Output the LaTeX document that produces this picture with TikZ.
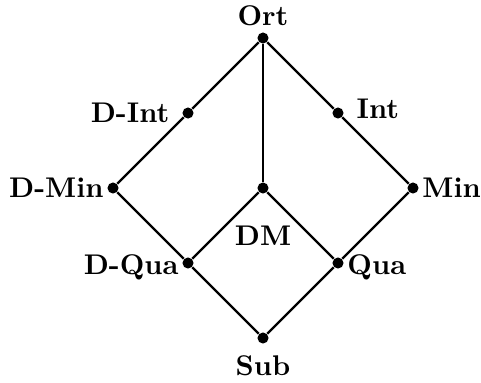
\documentclass[tikz,border=0pt]{standalone}
\usepackage{tikz}
\usetikzlibrary{positioning}

\begin{document}
\begin{tikzpicture}[
        dot/.style={
            circle,
            fill=black,
            inner sep=0pt,
            minimum size=4.2pt,
            label distance=0pt
        },
        every label/.style={font=\fontsize{10.8}{13}\selectfont\bfseries, inner sep=1.1pt},
        edge/.style={line width=0.9pt}
    ]

        \useasboundingbox (-3.507,-0.587) rectangle (2.907,4.507);

        \node[dot, label={[label distance=3.2pt]below:Sub}] (sub) at (0,0) {};

        \node[dot, label={[yshift=-1.5pt]left:D-Qua}] (dqua) at (-1,1) {};
        \node[dot, label={[yshift=-1.5pt]right:Qua}] (qua) at (1,1) {};

        \node[dot, label={left:D-Min}] (dmin) at (-2,2) {};
        \node[dot, label={[label distance=10.8pt]below:DM}] (dm) at (0,2) {};
        \node[dot, label={right:Min}] (min) at (2,2) {};

        \node[dot, label={[label distance=3.5pt]left:D-Int}] (dint) at (-1,3) {};
        \node[dot, label={[label distance=3.5pt, yshift=1.5pt]right:Int}] (int) at (1,3) {};

        \node[dot, label={[label distance=1.2pt]above:Ort}] (ort) at (0,4) {};

        \draw[edge] (ort) -- (dint) -- (dmin) -- (dqua) -- (sub);
        \draw[edge] (ort) -- (int) -- (min) -- (qua) -- (sub);
        \draw[edge] (ort) -- (dm);
        \draw[edge] (dm) -- (dqua);
        \draw[edge] (dm) -- (qua);

    \end{tikzpicture}
\end{document}
